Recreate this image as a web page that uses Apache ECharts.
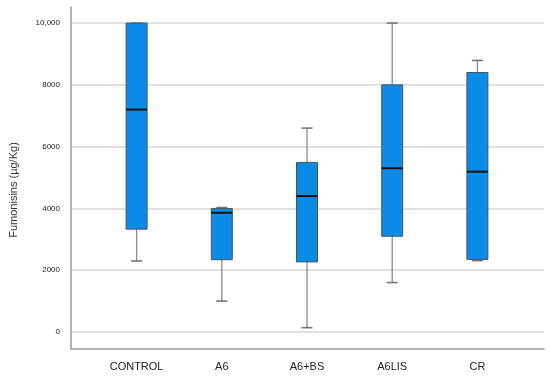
<!DOCTYPE html>
<html>
<head>
<meta charset="utf-8">
<script src="https://cdn.jsdelivr.net/npm/echarts@6/dist/echarts.min.js"></script>
<style>html,body{margin:0;padding:0;background:#fff}#c{width:550px;height:379px}</style>
</head>
<body>
<div id="c"></div>
<script>
const categories = ['CONTROL', 'A6', 'A6+BS', 'A6LIS', 'CR'];
const lowWhisker = [2300, 1000, 140, 1600, 2310];
const q1 = [3330, 2340, 2270, 3100, 2350];
const median = [7200, 3860, 4400, 5300, 5190];
const q3 = [10000, 4000, 5490, 8000, 8400];
const highWhisker = [10000, 4030, 6600, 10000, 8790];
const tickValues = [0, 2000, 4000, 6000, 8000, 10000];
const tickLabels = ['0', '2000', '4000', '6000', '8000', '10,000'];

const data = categories.map((c, i) => [i, lowWhisker[i], q1[i], median[i], q3[i], highWhisker[i]]);

const chart = echarts.init(document.getElementById('c'), null, {renderer: 'canvas'});
const Y_MIN = -550, Y_MAX = 10520;
const FONT = 'Liberation Sans, Arial, sans-serif';

function renderItem(params, api) {
  const x = api.value(0);
  const p = (v) => api.coord([x, v]);
  const bw = 21;
  const cw = 11;
  const cx = p(api.value(3))[0];
  const yLow = p(api.value(1))[1], yQ1 = p(api.value(2))[1], yMed = p(api.value(3))[1];
  const yQ3 = p(api.value(4))[1], yHigh = p(api.value(5))[1];
  const whiskerStyle = {stroke: '#8a8a8a', lineWidth: 1.3};
  const children = [
    {type: 'line', shape: {x1: cx, y1: yQ1, x2: cx, y2: yLow}, style: whiskerStyle},
    {type: 'line', shape: {x1: cx - cw/2, y1: yLow, x2: cx + cw/2, y2: yLow}, style: {stroke: '#777', lineWidth: 1.6}},
    {type: 'line', shape: {x1: cx, y1: yQ3, x2: cx, y2: yHigh}, style: whiskerStyle},
    {type: 'line', shape: {x1: cx - cw/2, y1: yHigh, x2: cx + cw/2, y2: yHigh}, style: {stroke: '#777', lineWidth: 1.6}},
    {type: 'rect', shape: {x: cx - bw/2, y: yQ3, width: bw, height: yQ1 - yQ3}, style: {fill: '#0a8ce6', stroke: '#4a5560', lineWidth: 1}},
    {type: 'line', shape: {x1: cx - bw/2, y1: yMed, x2: cx + bw/2, y2: yMed}, style: {stroke: '#111', lineWidth: 2}}
  ];
  return {type: 'group', children};
}

chart.setOption({
  animation: false,
  grid: [
    {left: 71, right: 6, top: 7, bottom: 30},
    {left: 94, right: 30, top: 7, bottom: 30}
  ],
  xAxis: [
    {gridIndex: 0, type: 'value', min: 0, max: 1, axisLine: {show: true, onZero: false, lineStyle: {color: '#9a9a9a', width: 1.5}}, axisTick: {show: false}, axisLabel: {show: false}, splitLine: {show: false}},
    {gridIndex: 1, type: 'category', data: categories, axisLine: {show: false}, axisTick: {show: false},
     axisLabel: {margin: 12, fontFamily: FONT, fontSize: 11, color: '#222'}}
  ],
  yAxis: [
    {gridIndex: 0, type: 'value', min: Y_MIN, max: Y_MAX,
     name: 'Fumonisins (µg/Kg)', nameLocation: 'middle', nameGap: 52, nameRotate: 90,
     nameTextStyle: {fontFamily: FONT, fontSize: 11, color: '#333', padding: [0, 24, 0, 0]},
     axisLine: {show: true, lineStyle: {color: '#9a9a9a', width: 1.5}},
     axisTick: {show: false, customValues: tickValues},
     axisLabel: {customValues: tickValues, margin: 11, fontFamily: FONT, fontSize: 8, color: '#222',
       formatter: (v) => tickLabels[tickValues.indexOf(v)] ?? ''},
     splitLine: {show: true, lineStyle: {color: '#d6d6d6', width: 1.5}}},
    {gridIndex: 1, type: 'value', min: Y_MIN, max: Y_MAX, axisLine: {show: false}, axisTick: {show: false}, axisLabel: {show: false}, splitLine: {show: false}}
  ],
  series: [{
    type: 'custom',
    xAxisIndex: 1, yAxisIndex: 1,
    renderItem,
    encode: {x: 0, y: [1, 2, 3, 4, 5]},
    data
  }]
});
</script>
</body>
</html>
